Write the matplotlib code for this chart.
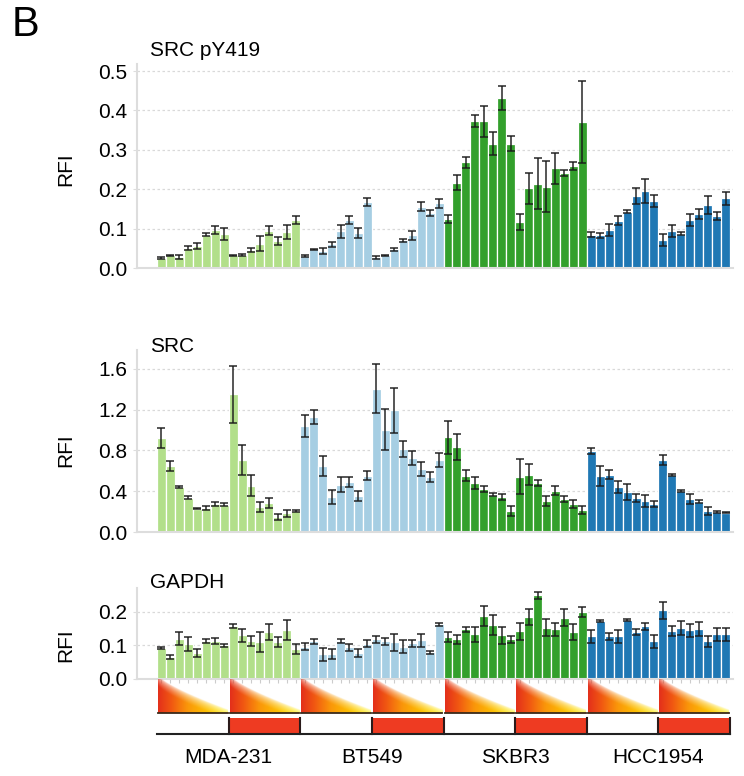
import numpy as np
import matplotlib.pyplot as plt
import matplotlib.transforms as mtransforms
from matplotlib.colors import LinearSegmentedColormap
from matplotlib.patches import Rectangle

plt.rcParams['font.family'] = ['Liberation Sans', 'DejaVu Sans']

cell_lines = ['MDA-231', 'BT549', 'SKBR3', 'HCC1954']
line_colors = ['#b2df8a', '#a6cee3', '#33a02c', '#1f78b4']
bars_per_line = 16

# SRC pY419, 16 conditions per cell line (MDA-231, BT549, SKBR3, HCC1954)
py419_mean = [0.025, 0.032, 0.028, 0.050, 0.056, 0.085, 0.097, 0.087, 0.032, 0.033, 0.046, 0.062, 0.095, 0.068, 0.091, 0.122,
              0.031, 0.047, 0.043, 0.060, 0.093, 0.122, 0.089, 0.167, 0.027, 0.032, 0.047, 0.070, 0.083, 0.156, 0.139, 0.164,
              0.124, 0.217, 0.268, 0.374, 0.372, 0.316, 0.431, 0.316, 0.116, 0.202, 0.214, 0.206, 0.253, 0.241, 0.258, 0.371,
              0.085, 0.083, 0.096, 0.120, 0.143, 0.182, 0.195, 0.170, 0.072, 0.093, 0.087, 0.122, 0.137, 0.160, 0.131, 0.177]
py419_err = [0.002, 0.002, 0.004, 0.005, 0.008, 0.005, 0.010, 0.015, 0.002, 0.003, 0.005, 0.020, 0.012, 0.010, 0.018, 0.010,
             0.003, 0.002, 0.008, 0.006, 0.016, 0.010, 0.013, 0.010, 0.004, 0.002, 0.005, 0.003, 0.012, 0.012, 0.008, 0.012,
             0.010, 0.020, 0.015, 0.015, 0.040, 0.030, 0.030, 0.018, 0.020, 0.040, 0.065, 0.065, 0.040, 0.007, 0.010, 0.105,
             0.007, 0.007, 0.015, 0.012, 0.004, 0.020, 0.030, 0.015, 0.015, 0.015, 0.004, 0.015, 0.012, 0.022, 0.010, 0.017]

# total SRC
src_mean = [0.925, 0.646, 0.440, 0.334, 0.226, 0.233, 0.275, 0.266, 1.350, 0.708, 0.456, 0.243, 0.282, 0.144, 0.184, 0.210,
            1.040, 1.128, 0.650, 0.340, 0.466, 0.488, 0.357, 0.554, 1.407, 1.003, 1.193, 0.813, 0.728, 0.620, 0.538, 0.708,
            0.930, 0.833, 0.554, 0.482, 0.423, 0.367, 0.341, 0.203, 0.544, 0.564, 0.479, 0.308, 0.407, 0.325, 0.275, 0.216,
            0.793, 0.548, 0.564, 0.440, 0.390, 0.334, 0.302, 0.275, 0.708, 0.560, 0.400, 0.325, 0.298, 0.203, 0.197, 0.187]
src_err = [0.098, 0.050, 0.013, 0.015, 0.005, 0.020, 0.015, 0.015, 0.280, 0.150, 0.100, 0.050, 0.050, 0.030, 0.035, 0.010,
           0.110, 0.070, 0.100, 0.070, 0.070, 0.050, 0.050, 0.040, 0.240, 0.200, 0.220, 0.080, 0.070, 0.070, 0.050, 0.070,
           0.160, 0.130, 0.050, 0.060, 0.030, 0.015, 0.030, 0.050, 0.170, 0.100, 0.030, 0.050, 0.040, 0.030, 0.040, 0.040,
           0.030, 0.100, 0.040, 0.060, 0.080, 0.040, 0.060, 0.030, 0.050, 0.010, 0.010, 0.050, 0.015, 0.040, 0.010, 0.005]

# GAPDH
gapdh_mean = [0.093, 0.066, 0.120, 0.105, 0.078, 0.113, 0.113, 0.100, 0.158, 0.130, 0.113, 0.110, 0.140, 0.110, 0.147, 0.089,
              0.097, 0.112, 0.074, 0.076, 0.113, 0.095, 0.078, 0.105, 0.118, 0.112, 0.110, 0.097, 0.107, 0.115, 0.080, 0.163,
              0.125, 0.118, 0.148, 0.133, 0.188, 0.160, 0.130, 0.118, 0.142, 0.185, 0.250, 0.153, 0.148, 0.183, 0.140, 0.200,
              0.127, 0.172, 0.127, 0.127, 0.177, 0.140, 0.157, 0.112, 0.205, 0.143, 0.152, 0.145, 0.149, 0.112, 0.133, 0.133]
gapdh_err = [0.003, 0.005, 0.020, 0.020, 0.012, 0.005, 0.008, 0.005, 0.007, 0.020, 0.015, 0.030, 0.025, 0.015, 0.030, 0.015,
             0.010, 0.007, 0.020, 0.015, 0.005, 0.010, 0.012, 0.010, 0.010, 0.010, 0.025, 0.020, 0.010, 0.020, 0.005, 0.005,
             0.015, 0.013, 0.007, 0.022, 0.030, 0.030, 0.025, 0.010, 0.025, 0.025, 0.010, 0.025, 0.020, 0.025, 0.025, 0.015,
             0.020, 0.003, 0.010, 0.020, 0.003, 0.010, 0.010, 0.020, 0.025, 0.015, 0.020, 0.020, 0.020, 0.015, 0.020, 0.020]

panels = [
    ('SRC pY419', py419_mean, py419_err, [0.0, 0.1, 0.2, 0.3, 0.4, 0.5], 0.518),
    ('SRC', src_mean, src_err, [0.0, 0.4, 0.8, 1.2, 1.6], 1.786),
    ('GAPDH', gapdh_mean, gapdh_err, [0.0, 0.1, 0.2], 0.2716),
]

W, H = 744, 776
FS = 15
fig = plt.figure(figsize=(W / 100, H / 100), dpi=100)

def px_rect(top, bottom, left=137, right=733):
    return [left / W, 1 - bottom / H, (right - left) / W, (bottom - top) / H]

axes_px = [(64, 268), (350, 532), (588, 679)]
title_y = [50, 346, 582]

n_bars = bars_per_line * len(cell_lines)
x = np.arange(n_bars)
bar_colors = [c for c in line_colors for _ in range(bars_per_line)]
xlim = (-2.73, 63.83)

for (title, mean, err, ticks, ytop), (top, bottom), ty in zip(panels, axes_px, title_y):
    ax = fig.add_axes(px_rect(top, bottom))
    ax.bar(x, mean, width=1.0, color=bar_colors, edgecolor='white', linewidth=0.9, zorder=2)
    ax.errorbar(x, mean, yerr=err, fmt='none', ecolor='#1a1a1a', alpha=0.8,
                elinewidth=1.3, capsize=3.2, capthick=1.3, zorder=3)
    ax.set_xlim(*xlim)
    ax.set_ylim(0, ytop)
    ax.set_yticks(ticks)
    ax.set_yticklabels([f'{t:.1f}' for t in ticks], fontsize=FS)
    ax.tick_params(axis='y', length=3, color='#dddddd', pad=4)
    ax.yaxis.grid(True, color='#d9d9d9', linestyle=(0, (2, 2)), linewidth=0.9, zorder=0)
    ax.set_axisbelow(True)
    for s in ['top', 'right']:
        ax.spines[s].set_visible(False)
    for s in ['left', 'bottom']:
        ax.spines[s].set_color('#dddddd')
        ax.spines[s].set_linewidth(1.5)
    if title == 'GAPDH':
        ax.set_xticks(x)
        ax.set_xticklabels([])
        ax.tick_params(axis='x', length=3, color='#cccccc')
    else:
        ax.set_xticks([])
    ax.set_ylabel('RFI', fontsize=FS)
    ax.yaxis.set_label_coords(-0.104, 0.5 * ticks[-1] / ytop)
    fig.text(150 / W, 1 - ty / H, title, fontsize=FS, ha='left', va='center')

# treatment strip under the bars
strip = fig.add_axes(px_rect(678, 740))
strip.set_xlim(*xlim)
strip.set_ylim(0, 1)
strip.axis('off')

wedge_cmap = LinearSegmentedColormap.from_list(
    'wedge', [(0.0, '#e3301b'), (0.18, '#f05512'), (0.42, '#fa960a'), (0.72, '#fec400'), (1.0, '#fff200')])
nu, nv = 200, 80
u = np.linspace(0, 1, nu)
v = np.linspace(1, 0, nv)[:, None]
edge = 1.12 - 1.02 * u[None, :] ** 0.75
alpha = np.clip((edge - v) / 0.3, 0, 1) ** 0.5
wedge_img = wedge_cmap(np.broadcast_to(u, (nv, nu))).copy()
wedge_img[..., 3] = alpha

w_bottom, w_top = 0.435, 0.968
b_bottom, b_top = 0.097, 0.355
n_halves = n_bars // 8
for k in range(n_halves):
    x0, x1 = 8 * k - 0.5 + 0.12, 8 * k + 7.5 - 0.12
    strip.imshow(wedge_img, extent=[x0, x1, w_bottom, w_top], aspect='auto',
                 interpolation='bilinear', zorder=2)
    strip.plot([x0, x1], [w_bottom, w_bottom], color='#3a2a1a', lw=1.3, zorder=3)
    if k % 2 == 1:
        bx0, bx1 = 8 * k - 0.5, 8 * k + 7.5
        strip.add_patch(Rectangle((bx0, b_bottom), bx1 - bx0, b_top - b_bottom,
                                  facecolor='#ee3b22', edgecolor='none', zorder=2))
        strip.plot([bx0, bx0], [b_bottom, b_top], color='#2a1a1a', lw=1.5, zorder=3)
        strip.plot([bx1, bx1], [b_bottom, b_top], color='#2a1a1a', lw=1.5, zorder=3)
strip.plot([-0.5, n_bars - 0.5], [b_bottom, b_bottom], color='#222222', lw=1.5, zorder=3)

trans = mtransforms.blended_transform_factory(strip.transData, strip.transAxes)
for i, name in enumerate(cell_lines):
    strip.text(bars_per_line * i + (bars_per_line - 1) / 2, -0.29, name, transform=trans,
               ha='center', va='center', fontsize=FS)

fig.text(12 / W, 1 - 25 / H, 'B', fontsize=30, ha='left', va='center')

fig.savefig('out.png', dpi=100)
